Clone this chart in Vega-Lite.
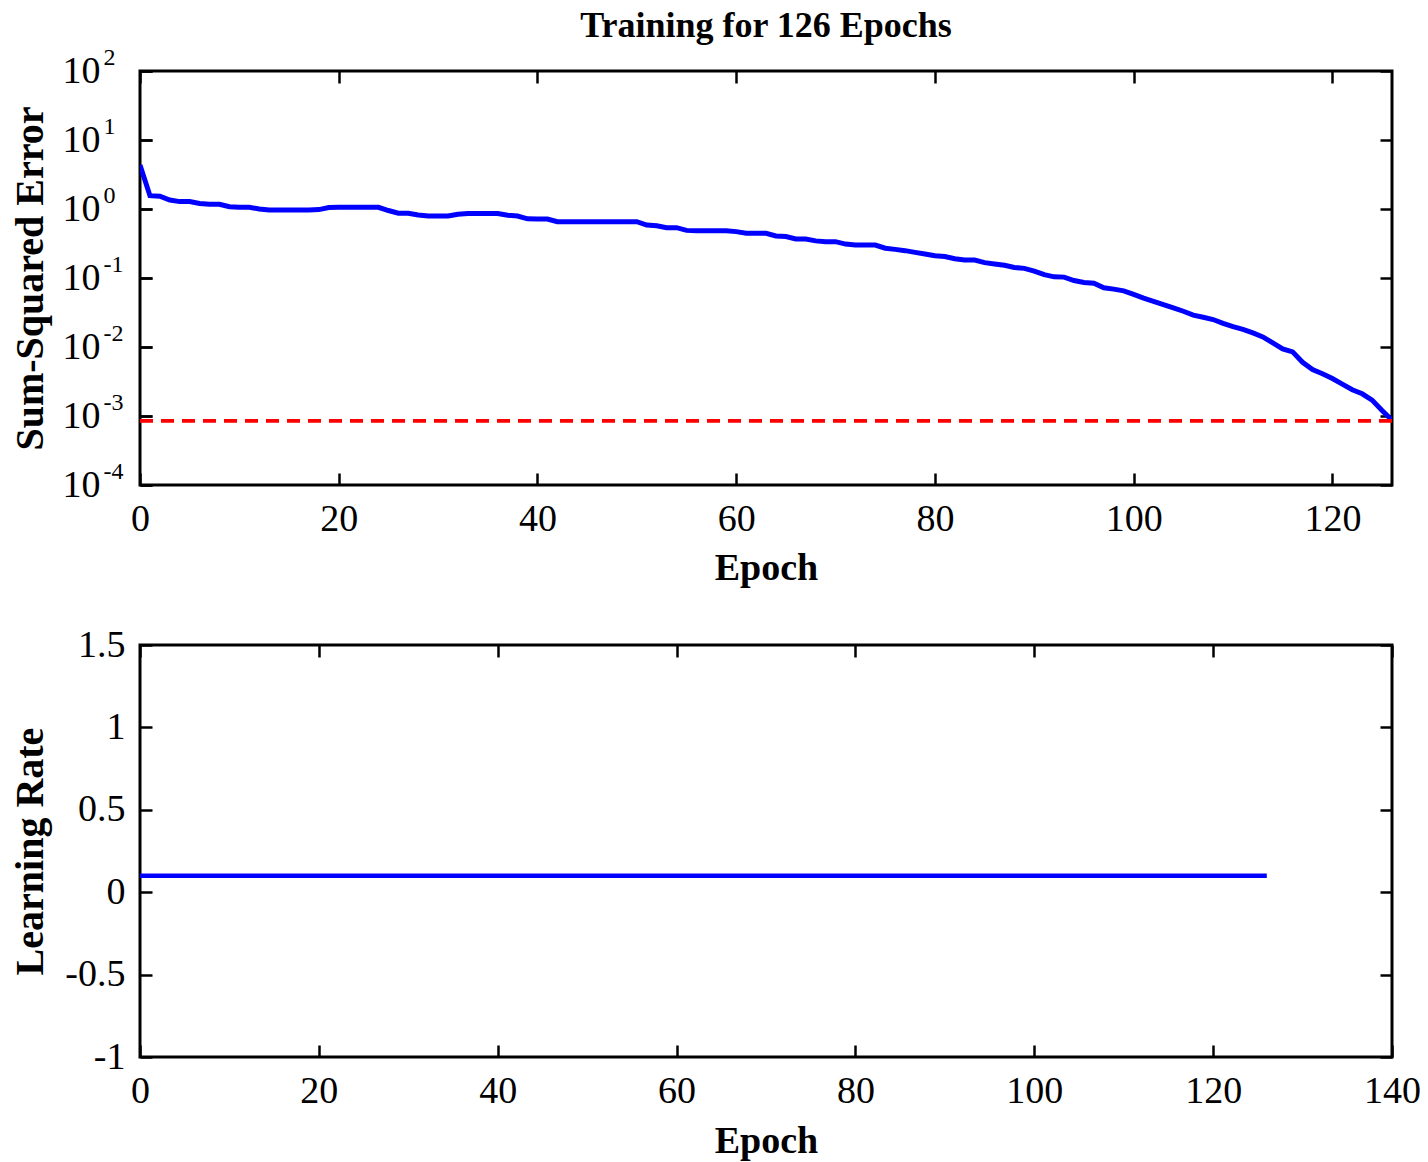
{
  "$schema": "https://vega.github.io/schema/vega-lite/v6.json",
  "padding": {"left": 8, "top": 6, "right": 5, "bottom": 5},
  "background": "white",
  "config": {
    "font": "Liberation Serif",
    "view": {"stroke": "black", "strokeWidth": 3},
    "axis": {
      "tickSize": -12, "tickWidth": 2.5, "tickColor": "black",
      "domain": false, "grid": false, "labelFlush": false,
      "labelFont": "Liberation Serif", "labelFontSize": 38, "labelColor": "black",
      "titleFont": "Liberation Serif", "titleFontSize": 38, "titleFontWeight": "bold", "titleColor": "black"
    },
    "title": {"font": "Liberation Serif", "fontSize": 36, "fontWeight": "bold", "color": "black"}
  },
  "datasets": {
    "goal": [{"goal": 0.00085}],
    "train": [
      {"epoch": 0, "sse": 4.34, "lr": 0.1},
      {"epoch": 1, "sse": 1.56, "lr": 0.1},
      {"epoch": 2, "sse": 1.53, "lr": 0.1},
      {"epoch": 3, "sse": 1.35, "lr": 0.1},
      {"epoch": 4, "sse": 1.28, "lr": 0.1},
      {"epoch": 5, "sse": 1.28, "lr": 0.1},
      {"epoch": 6, "sse": 1.2, "lr": 0.1},
      {"epoch": 7, "sse": 1.17, "lr": 0.1},
      {"epoch": 8, "sse": 1.17, "lr": 0.1},
      {"epoch": 9, "sse": 1.08, "lr": 0.1},
      {"epoch": 10, "sse": 1.06, "lr": 0.1},
      {"epoch": 11, "sse": 1.06, "lr": 0.1},
      {"epoch": 12, "sse": 1.0, "lr": 0.1},
      {"epoch": 13, "sse": 0.97, "lr": 0.1},
      {"epoch": 14, "sse": 0.97, "lr": 0.1},
      {"epoch": 15, "sse": 0.97, "lr": 0.1},
      {"epoch": 16, "sse": 0.97, "lr": 0.1},
      {"epoch": 17, "sse": 0.97, "lr": 0.1},
      {"epoch": 18, "sse": 0.98, "lr": 0.1},
      {"epoch": 19, "sse": 1.05, "lr": 0.1},
      {"epoch": 20, "sse": 1.06, "lr": 0.1},
      {"epoch": 21, "sse": 1.06, "lr": 0.1},
      {"epoch": 22, "sse": 1.06, "lr": 0.1},
      {"epoch": 23, "sse": 1.06, "lr": 0.1},
      {"epoch": 24, "sse": 1.06, "lr": 0.1},
      {"epoch": 25, "sse": 0.95, "lr": 0.1},
      {"epoch": 26, "sse": 0.87, "lr": 0.1},
      {"epoch": 27, "sse": 0.87, "lr": 0.1},
      {"epoch": 28, "sse": 0.82, "lr": 0.1},
      {"epoch": 29, "sse": 0.79, "lr": 0.1},
      {"epoch": 30, "sse": 0.79, "lr": 0.1},
      {"epoch": 31, "sse": 0.79, "lr": 0.1},
      {"epoch": 32, "sse": 0.84, "lr": 0.1},
      {"epoch": 33, "sse": 0.86, "lr": 0.1},
      {"epoch": 34, "sse": 0.86, "lr": 0.1},
      {"epoch": 35, "sse": 0.86, "lr": 0.1},
      {"epoch": 36, "sse": 0.86, "lr": 0.1},
      {"epoch": 37, "sse": 0.81, "lr": 0.1},
      {"epoch": 38, "sse": 0.79, "lr": 0.1},
      {"epoch": 39, "sse": 0.72, "lr": 0.1},
      {"epoch": 40, "sse": 0.716, "lr": 0.1},
      {"epoch": 41, "sse": 0.716, "lr": 0.1},
      {"epoch": 42, "sse": 0.655, "lr": 0.1},
      {"epoch": 43, "sse": 0.655, "lr": 0.1},
      {"epoch": 44, "sse": 0.655, "lr": 0.1},
      {"epoch": 45, "sse": 0.655, "lr": 0.1},
      {"epoch": 46, "sse": 0.655, "lr": 0.1},
      {"epoch": 47, "sse": 0.655, "lr": 0.1},
      {"epoch": 48, "sse": 0.655, "lr": 0.1},
      {"epoch": 49, "sse": 0.655, "lr": 0.1},
      {"epoch": 50, "sse": 0.655, "lr": 0.1},
      {"epoch": 51, "sse": 0.586, "lr": 0.1},
      {"epoch": 52, "sse": 0.57, "lr": 0.1},
      {"epoch": 53, "sse": 0.536, "lr": 0.1},
      {"epoch": 54, "sse": 0.536, "lr": 0.1},
      {"epoch": 55, "sse": 0.49, "lr": 0.1},
      {"epoch": 56, "sse": 0.485, "lr": 0.1},
      {"epoch": 57, "sse": 0.485, "lr": 0.1},
      {"epoch": 58, "sse": 0.485, "lr": 0.1},
      {"epoch": 59, "sse": 0.485, "lr": 0.1},
      {"epoch": 60, "sse": 0.47, "lr": 0.1},
      {"epoch": 61, "sse": 0.444, "lr": 0.1},
      {"epoch": 62, "sse": 0.444, "lr": 0.1},
      {"epoch": 63, "sse": 0.444, "lr": 0.1},
      {"epoch": 64, "sse": 0.407, "lr": 0.1},
      {"epoch": 65, "sse": 0.4, "lr": 0.1},
      {"epoch": 66, "sse": 0.367, "lr": 0.1},
      {"epoch": 67, "sse": 0.367, "lr": 0.1},
      {"epoch": 68, "sse": 0.345, "lr": 0.1},
      {"epoch": 69, "sse": 0.336, "lr": 0.1},
      {"epoch": 70, "sse": 0.336, "lr": 0.1},
      {"epoch": 71, "sse": 0.31, "lr": 0.1},
      {"epoch": 72, "sse": 0.3, "lr": 0.1},
      {"epoch": 73, "sse": 0.3, "lr": 0.1},
      {"epoch": 74, "sse": 0.3, "lr": 0.1},
      {"epoch": 75, "sse": 0.27, "lr": 0.1},
      {"epoch": 76, "sse": 0.26, "lr": 0.1},
      {"epoch": 77, "sse": 0.249, "lr": 0.1},
      {"epoch": 78, "sse": 0.235, "lr": 0.1},
      {"epoch": 79, "sse": 0.223, "lr": 0.1},
      {"epoch": 80, "sse": 0.21, "lr": 0.1},
      {"epoch": 81, "sse": 0.205, "lr": 0.1},
      {"epoch": 82, "sse": 0.19, "lr": 0.1},
      {"epoch": 83, "sse": 0.182, "lr": 0.1},
      {"epoch": 84, "sse": 0.182, "lr": 0.1},
      {"epoch": 85, "sse": 0.167, "lr": 0.1},
      {"epoch": 86, "sse": 0.16, "lr": 0.1},
      {"epoch": 87, "sse": 0.153, "lr": 0.1},
      {"epoch": 88, "sse": 0.142, "lr": 0.1},
      {"epoch": 89, "sse": 0.138, "lr": 0.1},
      {"epoch": 90, "sse": 0.126, "lr": 0.1},
      {"epoch": 91, "sse": 0.112, "lr": 0.1},
      {"epoch": 92, "sse": 0.104, "lr": 0.1},
      {"epoch": 93, "sse": 0.103, "lr": 0.1},
      {"epoch": 94, "sse": 0.092, "lr": 0.1},
      {"epoch": 95, "sse": 0.086, "lr": 0.1},
      {"epoch": 96, "sse": 0.084, "lr": 0.1},
      {"epoch": 97, "sse": 0.072, "lr": 0.1},
      {"epoch": 98, "sse": 0.069, "lr": 0.1},
      {"epoch": 99, "sse": 0.065, "lr": 0.1},
      {"epoch": 100, "sse": 0.058, "lr": 0.1},
      {"epoch": 101, "sse": 0.051, "lr": 0.1},
      {"epoch": 102, "sse": 0.046, "lr": 0.1},
      {"epoch": 103, "sse": 0.041, "lr": 0.1},
      {"epoch": 104, "sse": 0.037, "lr": 0.1},
      {"epoch": 105, "sse": 0.033, "lr": 0.1},
      {"epoch": 106, "sse": 0.029, "lr": 0.1},
      {"epoch": 107, "sse": 0.027, "lr": 0.1},
      {"epoch": 108, "sse": 0.025, "lr": 0.1},
      {"epoch": 109, "sse": 0.022, "lr": 0.1},
      {"epoch": 110, "sse": 0.0197, "lr": 0.1},
      {"epoch": 111, "sse": 0.018, "lr": 0.1},
      {"epoch": 112, "sse": 0.016, "lr": 0.1},
      {"epoch": 113, "sse": 0.014, "lr": 0.1},
      {"epoch": 114, "sse": 0.0115, "lr": 0.1},
      {"epoch": 115, "sse": 0.0094, "lr": 0.1},
      {"epoch": 116, "sse": 0.0085, "lr": 0.1},
      {"epoch": 117, "sse": 0.006, "lr": 0.1},
      {"epoch": 118, "sse": 0.0047, "lr": 0.1},
      {"epoch": 119, "sse": 0.0041, "lr": 0.1},
      {"epoch": 120, "sse": 0.0035, "lr": 0.1},
      {"epoch": 121, "sse": 0.0029, "lr": 0.1},
      {"epoch": 122, "sse": 0.0024, "lr": 0.1},
      {"epoch": 123, "sse": 0.0021, "lr": 0.1},
      {"epoch": 124, "sse": 0.0017, "lr": 0.1},
      {"epoch": 125, "sse": 0.0012, "lr": 0.1},
      {"epoch": 126, "sse": 0.00087, "lr": 0.1}
    ]
  },
  "vconcat": [
    {
      "title": {"text": "Training for 126 Epochs", "offset": 0},
      "width": 1252,
      "height": 414,
      "layer": [
        {
          "data": {"name": "train"},
          "mark": {"type": "line", "color": "#0000ff", "strokeWidth": 5, "clip": true},
          "encoding": {
            "x": {"field": "epoch", "type": "quantitative",
                  "scale": {"domain": [0, 126], "nice": false, "zero": false},
                  "axis": {"orient": "bottom", "values": [0, 20, 40, 60, 80, 100, 120], "title": "Epoch", "labelPadding": 27, "titlePadding": 11}},
            "y": {"field": "sse", "type": "quantitative",
                  "scale": {"type": "log", "domain": [0.0001, 100]},
                  "axis": {"orient": "left", "values": [0.0001, 0.001, 0.01, 0.1, 1, 10, 100], "labelExpr": "'10'", "labelPadding": 52, "title": "Sum-Squared Error", "titleFontSize": 40, "titlePadding": 12}}
          }
        },
        {
          "data": {"name": "goal"},
          "mark": {"type": "rule", "color": "#ff0000", "strokeWidth": 3.7, "strokeDash": [13, 8]},
          "encoding": {
            "y": {"field": "goal", "type": "quantitative", "axis": null}
          }
        },
        {
          "data": {"name": "train"},
          "mark": {"type": "line", "opacity": 0},
          "encoding": {
            "x": {"field": "epoch", "type": "quantitative",
                  "axis": {"orient": "top", "values": [0, 20, 40, 60, 80, 100, 120], "labels": false, "title": null}},
            "y": {"field": "sse", "type": "quantitative",
                  "axis": {"orient": "right", "values": [0.0001, 0.001, 0.01, 0.1, 1, 10, 100], "labels": false, "title": null}}
          }
        },
        {
          "data": {"name": "train"},
          "mark": {"type": "line", "opacity": 0},
          "encoding": {
            "x": {"field": "epoch", "type": "quantitative", "axis": null},
            "y": {"field": "sse", "type": "quantitative",
                  "axis": {"orient": "left", "values": [0.0001, 0.001, 0.01, 0.1, 1, 10, 100], "labelExpr": "'' + round(log(datum.value) / LN10)", "labelAlign": "left", "labelFontSize": 24, "labelOffset": -14, "labelPadding": 49, "title": null}}
          }
        }
      ],
      "resolve": {"axis": {"x": "independent", "y": "independent"}}
    },
    {
      "width": 1252,
      "height": 412,
      "data": {"name": "train"},
      "layer": [
        {
          "mark": {"type": "line", "color": "#0000ff", "strokeWidth": 4.5},
          "encoding": {
            "x": {"field": "epoch", "type": "quantitative",
                  "scale": {"domain": [0, 140], "nice": false, "zero": false},
                  "axis": {"orient": "bottom", "values": [0, 20, 40, 60, 80, 100, 120, 140], "title": "Epoch", "labelPadding": 27, "titlePadding": 12}},
            "y": {"field": "lr", "type": "quantitative",
                  "scale": {"domain": [-1, 1.5], "nice": false, "zero": false},
                  "axis": {"orient": "left", "values": [-1, -0.5, 0, 0.5, 1, 1.5], "labelExpr": "'' + datum.value", "labelPadding": 27, "title": "Learning Rate", "titleFontSize": 40, "titlePadding": 14}}
          }
        },
        {
          "mark": {"type": "line", "opacity": 0},
          "encoding": {
            "x": {"field": "epoch", "type": "quantitative",
                  "axis": {"orient": "top", "values": [0, 20, 40, 60, 80, 100, 120, 140], "labels": false, "title": null}},
            "y": {"field": "lr", "type": "quantitative",
                  "axis": {"orient": "right", "values": [-1, -0.5, 0, 0.5, 1, 1.5], "labels": false, "title": null}}
          }
        }
      ],
      "resolve": {"axis": {"x": "independent", "y": "independent"}}
    }
  ],
  "spacing": 35
}
